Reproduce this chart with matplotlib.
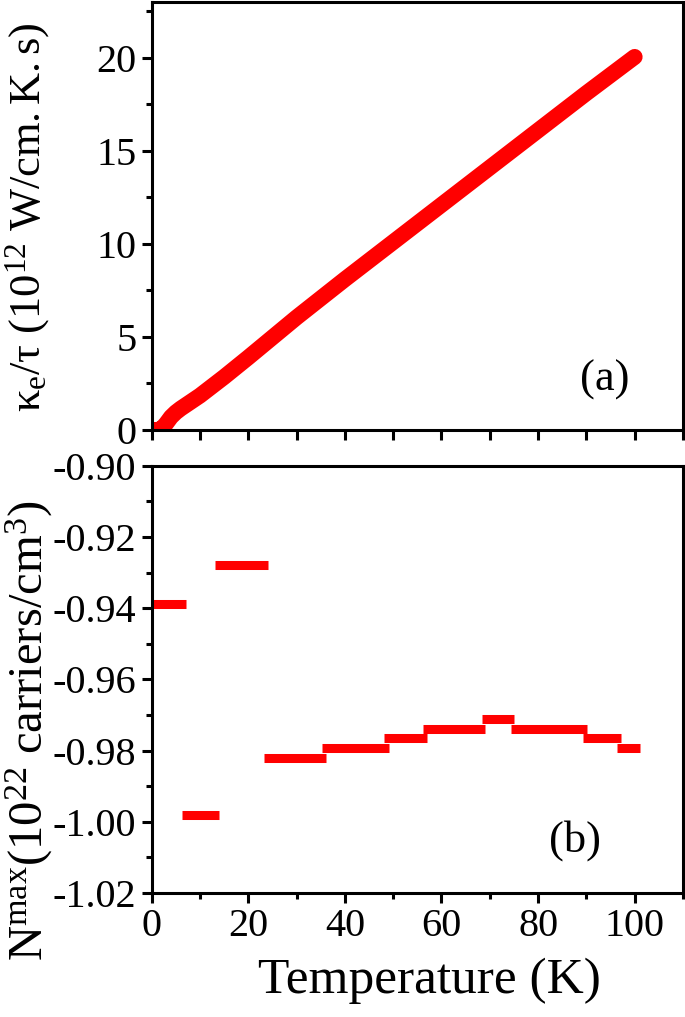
import numpy as np
import matplotlib
matplotlib.use('Agg')
from matplotlib import pyplot as plt
from matplotlib.ticker import MultipleLocator

plt.rcParams['font.family'] = ['Liberation Serif', 'DejaVu Serif']
plt.rcParams['mathtext.fontset'] = 'custom'
plt.rcParams['mathtext.rm'] = 'Liberation Serif'
plt.rcParams['mathtext.it'] = 'Liberation Serif:italic'

# (a) kappa_e / tau vs temperature
temp_a = [0, 1, 2, 3, 4, 5, 6, 8, 10, 15, 20, 30, 40, 50, 60, 70, 80, 90, 100]
kappa_a = [0.0, 0.0, 0.05, 0.35, 0.7, 0.95, 1.15, 1.5, 1.85, 2.85, 3.9,
           6.05, 8.1, 10.1, 12.1, 14.1, 16.1, 18.1, 20.05]

# (b) N^max, piecewise constant levels (start T, end T, value)
seg_start = [0.0, 6.2, 13.1, 23.2, 35.2, 48.2, 56.2, 68.3, 74.3, 89.4, 96.3]
seg_end = [7.0, 13.9, 24.0, 36.0, 49.1, 57.1, 69.1, 75.1, 90.1, 97.2, 101.2]
seg_value = [-0.9389, -0.998, -0.928, -0.982, -0.9792, -0.9766,
             -0.9739, -0.9712, -0.9739, -0.9765, -0.9792]

fig = plt.figure(figsize=(6.85, 10.17), dpi=100)
ax1 = fig.add_axes([0.2215, 0.5772, 0.7755, 0.4208])
ax2 = fig.add_axes([0.2215, 0.1219, 0.7755, 0.4202])

red = '#ff0000'
ax1.plot(temp_a, kappa_a, color=red, lw=11.5, solid_capstyle='round',
         solid_joinstyle='round')
ax2.hlines(seg_value, seg_start, seg_end, color=red, lw=6.5)

for ax in (ax1, ax2):
    ax.set_xlim(0, 110)
    for s in ax.spines.values():
        s.set_linewidth(2.2)
    ax.tick_params(which='both', direction='out', width=2.2, labelsize=29,
                   top=False, right=False, pad=4)
    ax.tick_params(which='major', length=7)
    ax.tick_params(which='minor', length=4)

ax1.set_ylim(0, 23)
ax1.xaxis.set_major_locator(MultipleLocator(10))
ax1.tick_params(axis='x', labelbottom=False)
ax1.yaxis.set_major_locator(MultipleLocator(5))
ax1.yaxis.set_minor_locator(MultipleLocator(2.5))

ax2.set_ylim(-1.02, -0.90)
ax2.xaxis.set_major_locator(MultipleLocator(20))
ax2.xaxis.set_minor_locator(MultipleLocator(10))
ax2.yaxis.set_major_locator(MultipleLocator(0.02))
ax2.yaxis.set_minor_locator(MultipleLocator(0.01))
ax2.yaxis.set_major_formatter(plt.FuncFormatter(lambda v, p: '%.2f' % v))

ax1.set_ylabel(r'$\mathrm{\kappa_e/\tau\ (10^{12}\ W/cm.K.s)}$', fontsize=32,
               va='center')
ax1.yaxis.set_label_coords(0.040, 0.786, transform=fig.transFigure)
ax2.set_ylabel(r'$\mathrm{N^{max}(10^{22}\ carriers/cm^{3})}$', fontsize=35,
               va='center')
ax2.yaxis.set_label_coords(0.042, 0.281, transform=fig.transFigure)
ax2.set_xlabel('Temperature (K)', fontsize=37)
ax2.xaxis.set_label_coords(0.522, -0.15)

ax1.text(0.853, 0.117, '(a)', transform=ax1.transAxes, fontsize=32,
         ha='center', va='center')
ax2.text(0.797, 0.124, '(b)', transform=ax2.transAxes, fontsize=32,
         ha='center', va='center')

fig.savefig('out.png', dpi=100)
